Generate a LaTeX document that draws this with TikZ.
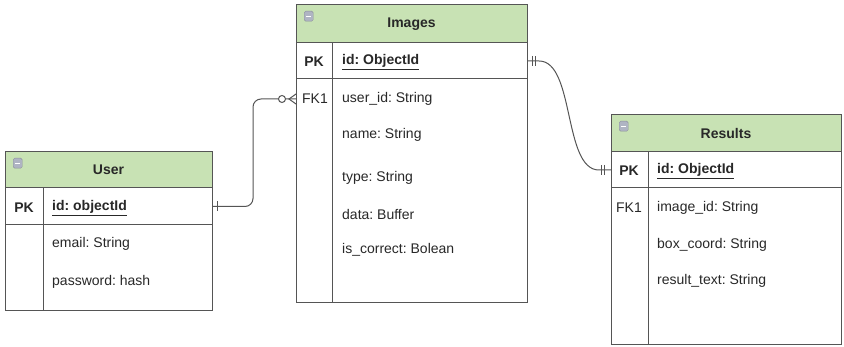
\documentclass[tikz,border=0pt]{standalone}
\usepackage{fontspec}
\setmainfont{Liberation Sans}
\frenchspacing
\usetikzlibrary{positioning}
\definecolor{hdrgreen}{RGB}{200,226,180}
\definecolor{framegray}{RGB}{85,85,85}
\definecolor{textgray}{RGB}{40,40,40}
\definecolor{icongray}{RGB}{175,180,195}
\newcommand{\tblfont}{\fontsize{14}{16}\selectfont}
\tikzset{
  frame/.style={draw=framegray, line width=1pt},
  hdr/.style={frame, fill=hdrgreen, font=\tblfont\bfseries, text=textgray, inner sep=0pt, outer sep=0pt, anchor=north west},
  row/.style={frame, fill=white, inner sep=0pt, outer sep=0pt},
  key/.style={font=\tblfont\bfseries, text=textgray, inner sep=0pt},
  fkey/.style={font=\tblfont, text=textgray, inner sep=0pt},
  field/.style={font=\tblfont, text=textgray, anchor=west, inner sep=0pt},
  pkfield/.style={field, font=\tblfont\bfseries},
  icon/.style={draw=icongray!80!black, fill=icongray, rounded corners=1.5pt, minimum width=9pt, minimum height=10pt, inner sep=0pt, anchor=north west,
    path picture={\draw[white, line width=1pt] ([xshift=2pt]path picture bounding box.west) -- ([xshift=-2pt]path picture bounding box.east);}},
  rel/.style={draw=framegray, line width=1pt},
}
\begin{document}
\begin{tikzpicture}[x=1pt, y=-1pt]
  \useasboundingbox (0,0) rectangle (844,347);

  % User table
  \node[hdr, minimum width=207pt, minimum height=36pt] (userhead) at (5,152) {User};
  \node[row, minimum width=207pt, minimum height=37pt, below=0pt of userhead] (userpk) {};
  \node[row, minimum width=207pt, minimum height=86pt, below=0pt of userpk] (userbody) {};
  \draw[frame] ([xshift=38pt]userpk.north west) -- ([xshift=38pt]userbody.south west);
  \node[icon] at ([xshift=8pt,yshift=-6pt]userhead.north west) {};
  \node[key] (userpkkey) at (24,208) {PK};
  \node[pkfield] (userid) at (52,208) {\underline{id: objectId}};
  \node[field] (useremail) at (52,244) {email: String};
  \node[field] (userpass) at (52,282) {password: hash};

  % Images table
  \node[hdr, minimum width=231pt, minimum height=38pt] (imghead) at (296,5) {Images};
  \node[row, minimum width=231pt, minimum height=36pt, below=0pt of imghead] (imgpk) {};
  \node[row, minimum width=231pt, minimum height=224pt, below=0pt of imgpk] (imgbody) {};
  \draw[frame] ([xshift=36pt]imgpk.north west) -- ([xshift=36pt]imgbody.south west);
  \node[icon] at ([xshift=8pt,yshift=-6pt]imghead.north west) {};
  \node[key] (imgpkkey) at (314,62) {PK};
  \node[pkfield] (imgid) at (342,62) {\underline{id: ObjectId}};
  \node[fkey] (imgfk) at (315,99) {FK1};
  \node[field] (imguser) at (342,99) {user\_id: String};
  \node[field] (imgname) at (342,135) {name: String};
  \node[field] (imgtype) at (342,178) {type: String};
  \node[field] (imgdata) at (342,214) {data: Buffer};
  \node[field] (imgcorrect) at (342,250) {is\_correct: Bolean};

  % Results table
  \node[hdr, minimum width=230pt, minimum height=37pt] (reshead) at (611,115) {Results};
  \node[row, minimum width=230pt, minimum height=36pt, below=0pt of reshead] (respk) {};
  \node[row, minimum width=230pt, minimum height=157pt, below=0pt of respk] (resbody) {};
  \draw[frame] ([xshift=37pt]respk.north west) -- ([xshift=37pt]resbody.south west);
  \node[icon] at ([xshift=8pt,yshift=-6pt]reshead.north west) {};
  \node[key] (respkkey) at (629,171) {PK};
  \node[pkfield] (resid) at (657,171) {\underline{id: ObjectId}};
  \node[fkey] (resfk) at (629,208) {FK1};
  \node[field] (resimage) at (657,208) {image\_id: String};
  \node[field] (resbox) at (657,245) {box\_coord: String};
  \node[field] (restext) at (657,281) {result\_text: String};

  % User -> Images (one to zero-or-many)
  \coordinate (imgfkin) at (imgbody.west |- imgfk);
  \draw[rel, rounded corners=8pt] (userpk.east) -- ++(41,0) |- (imgfkin);
  \draw[rel] (userpk.east) ++(5,-5) -- ++(0,10);
  \draw[rel] (imgfkin) ++(0,-5) -- ++(-7,5) -- ++(7,5);
  \draw[rel, fill=white] (imgfkin) ++(-14,0) circle (3.5);

  % Images -> Results (one to one)
  \draw[rel] (imgpk.east) -- ++(12,0) .. controls +(36,0) and +(-36,0) .. ([xshift=-12pt]respk.west) -- (respk.west);
  \draw[rel] (imgpk.east) ++(5,-5) -- ++(0,10) ++(3,0) -- ++(0,-10);
  \draw[rel] (respk.west) ++(-7,-5) -- ++(0,10) ++(-3,0) -- ++(0,-10);
\end{tikzpicture}
\end{document}
